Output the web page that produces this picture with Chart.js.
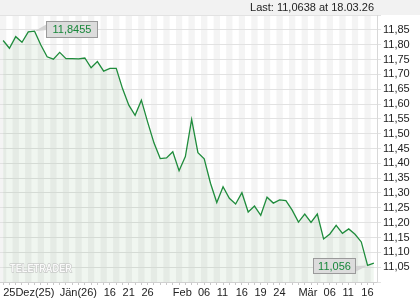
<!DOCTYPE html>
<html><head><meta charset="utf-8">
<script src="https://cdn.jsdelivr.net/npm/chart.js@4/dist/chart.umd.min.js"></script>
<style>html,body{margin:0;padding:0;background:#fff;}#wrap{width:420px;height:300px;position:relative;}</style>
</head><body><div id="wrap"><canvas id="c" width="420" height="300"></canvas></div>
<script>
// trading days (categories)
const dates = [
 '2025-12-17','2025-12-18','2025-12-19','2025-12-22','2025-12-23','2025-12-29','2025-12-30','2026-01-02','2026-01-05','2026-01-07',
 '2026-01-08','2026-01-09','2026-01-12','2026-01-13','2026-01-14','2026-01-15','2026-01-16','2026-01-19','2026-01-20','2026-01-21',
 '2026-01-22','2026-01-23','2026-01-26','2026-01-27','2026-01-28','2026-01-29','2026-01-30','2026-02-02','2026-02-03','2026-02-04',
 '2026-02-05','2026-02-06','2026-02-09','2026-02-10','2026-02-11','2026-02-12','2026-02-13','2026-02-16','2026-02-17','2026-02-18',
 '2026-02-19','2026-02-20','2026-02-23','2026-02-24','2026-02-25','2026-02-26','2026-02-27','2026-03-02','2026-03-03','2026-03-04',
 '2026-03-05','2026-03-06','2026-03-09','2026-03-10','2026-03-11','2026-03-12','2026-03-13','2026-03-16','2026-03-17','2026-03-18'
];
// prices
const prices = [
 11.814,11.788,11.827,11.808,11.843,11.8455,11.799,11.759,11.751,11.774,
 11.753,11.753,11.752,11.755,11.722,11.743,11.711,11.720,11.720,11.652,
 11.596,11.562,11.613,11.539,11.469,11.416,11.418,11.439,11.375,11.423,
 11.548,11.436,11.415,11.333,11.268,11.321,11.282,11.263,11.301,11.236,
 11.256,11.225,11.286,11.266,11.277,11.274,11.242,11.202,11.229,11.201,
 11.229,11.145,11.162,11.191,11.164,11.179,11.161,11.135,11.056,11.0638
];
// x-axis tick labels by date
const xTickLabels = {
 '2025-12-17':'25Dez(25)','2026-01-07':'Jän(26)','2026-01-16':'16','2026-01-21':'21','2026-01-26':'26',
 '2026-02-02':'Feb','2026-02-06':'06','2026-02-11':'11','2026-02-16':'16','2026-02-19':'19','2026-02-24':'24',
 '2026-03-02':'Mär','2026-03-06':'06','2026-03-11':'11','2026-03-16':'16'
};
const yTickValues = [11.05,11.10,11.15,11.20,11.25,11.30,11.35,11.40,11.45,11.50,11.55,11.60,11.65,11.70,11.75,11.80,11.85];
const yMin = 11.00, yMax = 11.90;
const headerText = 'Last: 11,0638 at 18.03.26';
const maxText = '11,8455';
const minText = '11,056';
const watermark = 'TELETRADER';

const FONT = '"Liberation Sans", Arial, sans-serif';

const bgPlugin = {
  id: 'bg',
  beforeDraw(chart) {
    const {ctx, chartArea: a, scales: {x}} = chart;
    ctx.save();
    ctx.fillStyle = '#fff';
    ctx.fillRect(0, 0, chart.width, chart.height);
    ctx.fillStyle = '#f2f2f2';
    ctx.fillRect(0, 0, chart.width, a.top);
    const slot = x.getPixelForValue(1) - x.getPixelForValue(0);
    ctx.fillStyle = '#f4f4f4';
    for (let i = 0; i < dates.length; i++) {
      if (i % 2 === 0) {
        const cx = x.getPixelForValue(i);
        const l = Math.max(a.left, cx - slot / 2), r = Math.min(a.right, cx + slot / 2);
        ctx.fillRect(l, a.top, r - l, a.bottom - a.top);
      }
    }
    ctx.restore();
  },
  afterDraw(chart) {
    const {ctx, chartArea: a, scales: {x, y}} = chart;
    ctx.save();
    // header
    ctx.font = '11px ' + FONT;
    ctx.fillStyle = '#222';
    ctx.textAlign = 'right';
    ctx.textBaseline = 'middle';
    ctx.fillText(headerText, a.right - 3, 7.5);
    // watermark
    ctx.font = 'bold 11px ' + FONT;
    const w = ctx.measureText(watermark).width;
    ctx.translate(10, 272);
    ctx.scale(62 / w, 1);
    ctx.textAlign = 'left';
    ctx.textBaseline = 'alphabetic';
    ctx.lineWidth = 1;
    ctx.strokeStyle = '#b8b8b8';
    ctx.fillStyle = '#fafafa';
    ctx.strokeText(watermark, 0, 0);
    ctx.fillText(watermark, 0, 0);
    ctx.setTransform(1, 0, 0, 1, 0, 0);
    // callouts
    let iMax = 0, iMin = 0;
    prices.forEach((p, i) => { if (p > prices[iMax]) iMax = i; if (p < prices[iMin]) iMin = i; });
    ctx.font = '11px ' + FONT;
    function box(px, py, bx, by, bw, bh, tri, text) {
      ctx.fillStyle = '#d4d4d4';
      ctx.beginPath();
      ctx.moveTo(px, py); ctx.lineTo(tri[0][0], tri[0][1]); ctx.lineTo(tri[1][0], tri[1][1]); ctx.closePath();
      ctx.fill();
      ctx.fillStyle = '#dcdcdc';
      ctx.fillRect(bx + 0.5, by + 0.5, bw, bh);
      ctx.strokeStyle = '#9a9a9a';
      ctx.lineWidth = 1;
      ctx.strokeRect(bx + 0.5, by + 0.5, bw, bh);
      ctx.fillStyle = '#17873a';
      ctx.textAlign = 'center';
      ctx.textBaseline = 'middle';
      ctx.fillText(text, bx + bw / 2 + 0.5, by + bh / 2 + 1);
    }
    const mx = x.getPixelForValue(iMax), my = y.getPixelForValue(prices[iMax]);
    const b1x = Math.round(mx + 11), b1y = Math.round(my - 10);
    box(mx, my, b1x, b1y, 51, 16, [[b1x + 1, b1y + 3], [b1x + 1, b1y + 9]], maxText);
    const nx = x.getPixelForValue(iMin), ny = y.getPixelForValue(prices[iMin]);
    const b2x = Math.round(nx - 55), b2y = Math.round(ny - 7);
    box(nx, ny, b2x, b2y, 42, 15, [[b2x + 42, b2y + 8], [b2x + 42, b2y + 14]], minText);
    ctx.restore();
  }
};

new Chart(document.getElementById('c'), {
  type: 'line',
  data: {
    labels: dates,
    datasets: [{
      data: prices,
      borderColor: '#1f8c3c',
      borderWidth: 1.3,
      backgroundColor: 'rgba(60,140,60,0.08)',
      fill: 'start',
      pointRadius: 0,
      tension: 0
    }]
  },
  options: {
    responsive: false,
    animation: false,
    devicePixelRatio: 1,
    layout: {padding: {top: 15, left: 0, right: 0, bottom: 0}},
    plugins: {legend: {display: false}, tooltip: {enabled: false}},
    scales: {
      x: {
        type: 'category',
        offset: true,
        grid: {display: true, drawOnChartArea: false, drawTicks: true, tickLength: 3, color: '#c8c8c8'},
        border: {display: true, color: '#d0d0d0'},
        ticks: {
          autoSkip: false, maxRotation: 0, minRotation: 0, align: 'start', padding: 1,
          color: '#222', font: {family: FONT, size: 11},
          callback: (v, i) => xTickLabels[dates[i]] || ''
        },
        afterFit(s) { s.height = 18; }
      },
      y: {
        position: 'right',
        min: yMin, max: yMax,
        afterBuildTicks(s) { s.ticks = [yMin].concat(yTickValues, [yMax]).map(v => ({value: v})); },
        grid: {color: '#e2e2e2', tickLength: 4, drawTicks: true},
        border: {display: true, color: '#d8d8d8'},
        ticks: {
          autoSkip: false, padding: 2, color: '#222', font: {family: FONT, size: 11},
          callback: v => yTickValues.some(t => Math.abs(t - v) < 1e-6) ? v.toFixed(2).replace('.', ',') : ''
        },
        afterFit(s) { s.width = 43; }
      }
    }
  },
  plugins: [bgPlugin]
});
</script></body></html>
